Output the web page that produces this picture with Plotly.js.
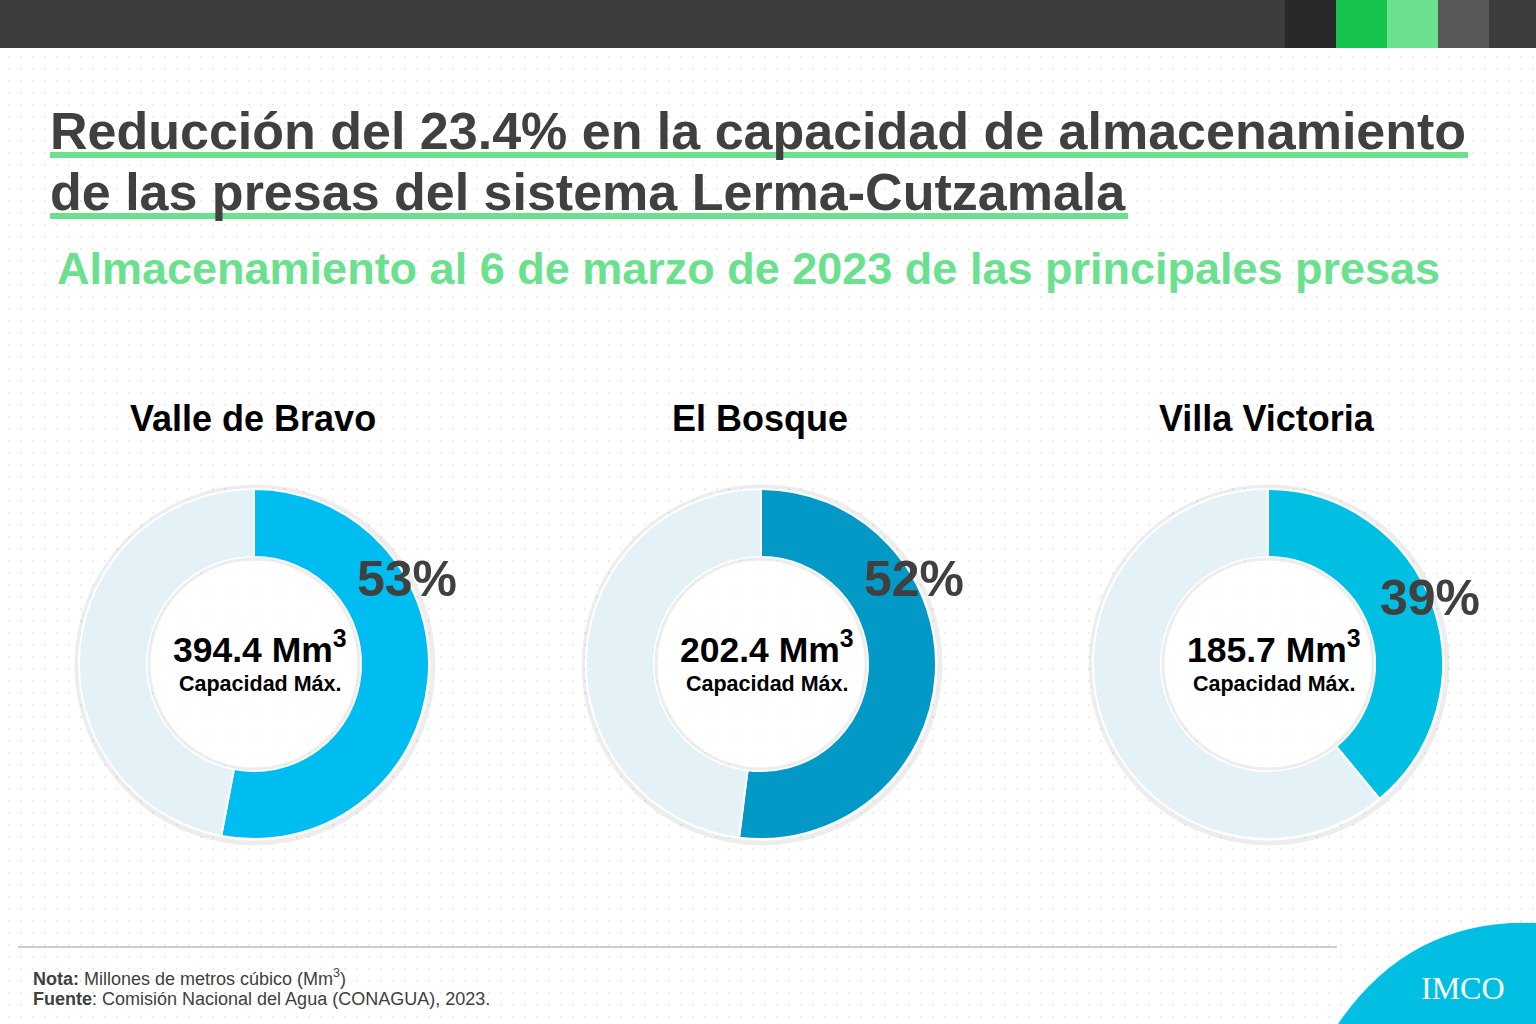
<!DOCTYPE html>
<html>
<head>
<meta charset="utf-8">
<script src="https://cdn.plot.ly/plotly-3.0.1.min.js"></script>
<style>
  html, body { margin: 0; padding: 0; }
  body {
    width: 1536px; height: 1024px; overflow: hidden;
    background-color: #ffffff;
    background-image: radial-gradient(circle, #ededed 1.1px, rgba(255,255,255,0) 1.6px);
    background-size: 12px 12px;
    background-position: 3px 3px;
  }
  #chart { width: 1536px; height: 1024px; }
</style>
</head>
<body>
<div id="chart"></div>
<script>
// Dams of the Lerma-Cutzamala system, storage on 6 March 2023
const presas = ["Valle de Bravo", "El Bosque", "Villa Victoria"];
const almacenamientoPct = [53, 52, 39];          // % of capacity filled
const capacidadMax = [394.4, 202.4, 185.7];       // Mm3
const coloresLlenado = ["#00BDF1", "#0399C6", "#00BFE3"];
const colorVacio = "#E4F1F7";

const titulo1 = "Reducción del 23.4% en la capacidad de almacenamiento";
const titulo2 = "de las presas del sistema Lerma-Cutzamala";
const subtitulo = "Almacenamiento al 6 de marzo de 2023 de las principales presas";
const notaTexto = "<b>Nota:</b> Millones de metros cúbico (Mm<sup>3</sup>)";
const fuenteTexto = "<b>Fuente</b>: Comisión Nacional del Agua (CONAGUA), 2023.";

// page geometry helpers (pixels -> paper fractions)
const W = 1536, H = 1024;
const px = x => x / W;
const py = y => 1 - y / H;

const FONT = "Liberation Sans, Arial, sans-serif";
const centersX = [254, 761, 1268];
const centerY = 664;
const R = 175;
const holeR = 107;

const traces = presas.map((p, i) => ({
  type: "pie",
  values: [almacenamientoPct[i], 100 - almacenamientoPct[i]],
  labels: ["Almacenado", "Disponible"],
  sort: false,
  direction: "clockwise",
  rotation: 0,
  hole: holeR / R,
  textinfo: "none",
  hoverinfo: "skip",
  showlegend: false,
  marker: {
    colors: [coloresLlenado[i], colorVacio],
    line: { color: "#ffffff", width: 2 }
  },
  domain: {
    x: [px(centersX[i] - R), px(centersX[i] + R)],
    y: [py(centerY + R), py(centerY - R)]
  }
}));

const shapes = [];
// top band
shapes.push({ type: "rect", xref: "paper", yref: "paper", x0: 0, x1: 1, y0: py(48), y1: 1,
  fillcolor: "#3d3d3d", line: { width: 0 }, layer: "below" });
const bloques = [[1285, 1336, "#292929"], [1336, 1387, "#17C24F"], [1387, 1438, "#6BE08F"], [1438, 1489, "#585858"]];
bloques.forEach(b => shapes.push({ type: "rect", xref: "paper", yref: "paper",
  x0: px(b[0]), x1: px(b[1]), y0: py(48), y1: 1, fillcolor: b[2], line: { width: 0 }, layer: "below" }));

// title underlines
shapes.push({ type: "rect", xref: "paper", yref: "paper", x0: px(50), x1: px(1468), y0: py(158), y1: py(152),
  fillcolor: "#6BE08F", line: { width: 0 }, layer: "below" });
shapes.push({ type: "rect", xref: "paper", yref: "paper", x0: px(50), x1: px(1128), y0: py(219), y1: py(213),
  fillcolor: "#6BE08F", line: { width: 0 }, layer: "below" });

// soft rim shadows around the rings and inside the holes
centersX.forEach(cx => {
  const rs = R + 3;
  shapes.push({ type: "circle", xref: "paper", yref: "paper",
    x0: px(cx - rs + 1), x1: px(cx + rs + 1), y0: py(centerY + rs + 1), y1: py(centerY - rs + 1),
    fillcolor: "rgba(0,0,0,0)", line: { width: 5, color: "rgba(0,0,0,0.07)" }, layer: "below" });
  shapes.push({ type: "circle", xref: "paper", yref: "paper",
    x0: px(cx - holeR + 2), x1: px(cx + holeR - 2), y0: py(centerY + holeR - 2), y1: py(centerY - holeR + 2),
    fillcolor: "rgba(255,255,255,0.75)", line: { width: 3, color: "rgba(0,0,0,0.07)" }, layer: "above" });
});

// footer rule
shapes.push({ type: "line", xref: "paper", yref: "paper", x0: px(18), x1: px(1337), y0: py(947), y1: py(947),
  line: { color: "#9a9a9a", width: 1 } });

// logo swoosh
shapes.push({ type: "path", xref: "paper", yref: "paper",
  path: `M ${px(1338)},${py(1024)} Q ${px(1410)},${py(918)} ${px(1536)},${py(923)} L ${px(1536)},${py(1024)} Z`,
  fillcolor: "#00BFE3", line: { width: 0 }, layer: "below" });

const ann = [];
const txt = (text, x, y, size, color, opts = {}) => ann.push(Object.assign({
  xref: "paper", yref: "paper", x: px(x), y: py(y), text: text, showarrow: false,
  xanchor: "center", yanchor: "middle",
  font: { family: FONT, size: size, color: color }
}, opts));

txt("<b>" + titulo1 + "</b>", 48, 131, 52, "#404040", { xanchor: "left" });
txt("<b>" + titulo2 + "</b>", 48, 192, 52, "#404040", { xanchor: "left" });
txt("<b>" + subtitulo + "</b>", 55, 268, 45, "#6BE08F", { xanchor: "left" });

const pctAngles = [61, 61, 68];   // degrees clockwise from 12 o'clock for the % label
presas.forEach((p, i) => {
  txt("<b>" + p + "</b>", centersX[i] - 1, 418, 36, "#000000");
  txt("<b>" + capacidadMax[i].toFixed(1) + " Mm<sup>3</sup></b>", centersX[i] + 6, 647, 35.5, "#000000");
  txt("<b>Capacidad Máx.</b>", centersX[i] + 6, 684, 21.5, "#000000");
  const a = pctAngles[i] * Math.PI / 180;
  const lx = centersX[i] + R * Math.sin(a);
  const ly = centerY - R * Math.cos(a);
  txt("<b>" + almacenamientoPct[i] + "%</b>", lx, ly, 50, "#404040");
});

txt(notaTexto, 31, 977, 18, "#404040", { xanchor: "left" });
txt(fuenteTexto, 31, 999, 18, "#404040", { xanchor: "left" });
txt("IMCO", 1463, 988, 32, "#ffffff", { font: { family: "Liberation Serif, serif", size: 32, color: "#ffffff" } });

const layout = {
  width: W, height: H,
  margin: { l: 0, r: 0, t: 0, b: 0 },
  paper_bgcolor: "rgba(0,0,0,0)",
  plot_bgcolor: "rgba(0,0,0,0)",
  shapes: shapes,
  annotations: ann,
  showlegend: false
};

Plotly.newPlot("chart", traces, layout, { displayModeBar: false, staticPlot: true });
</script>
</body>
</html>
